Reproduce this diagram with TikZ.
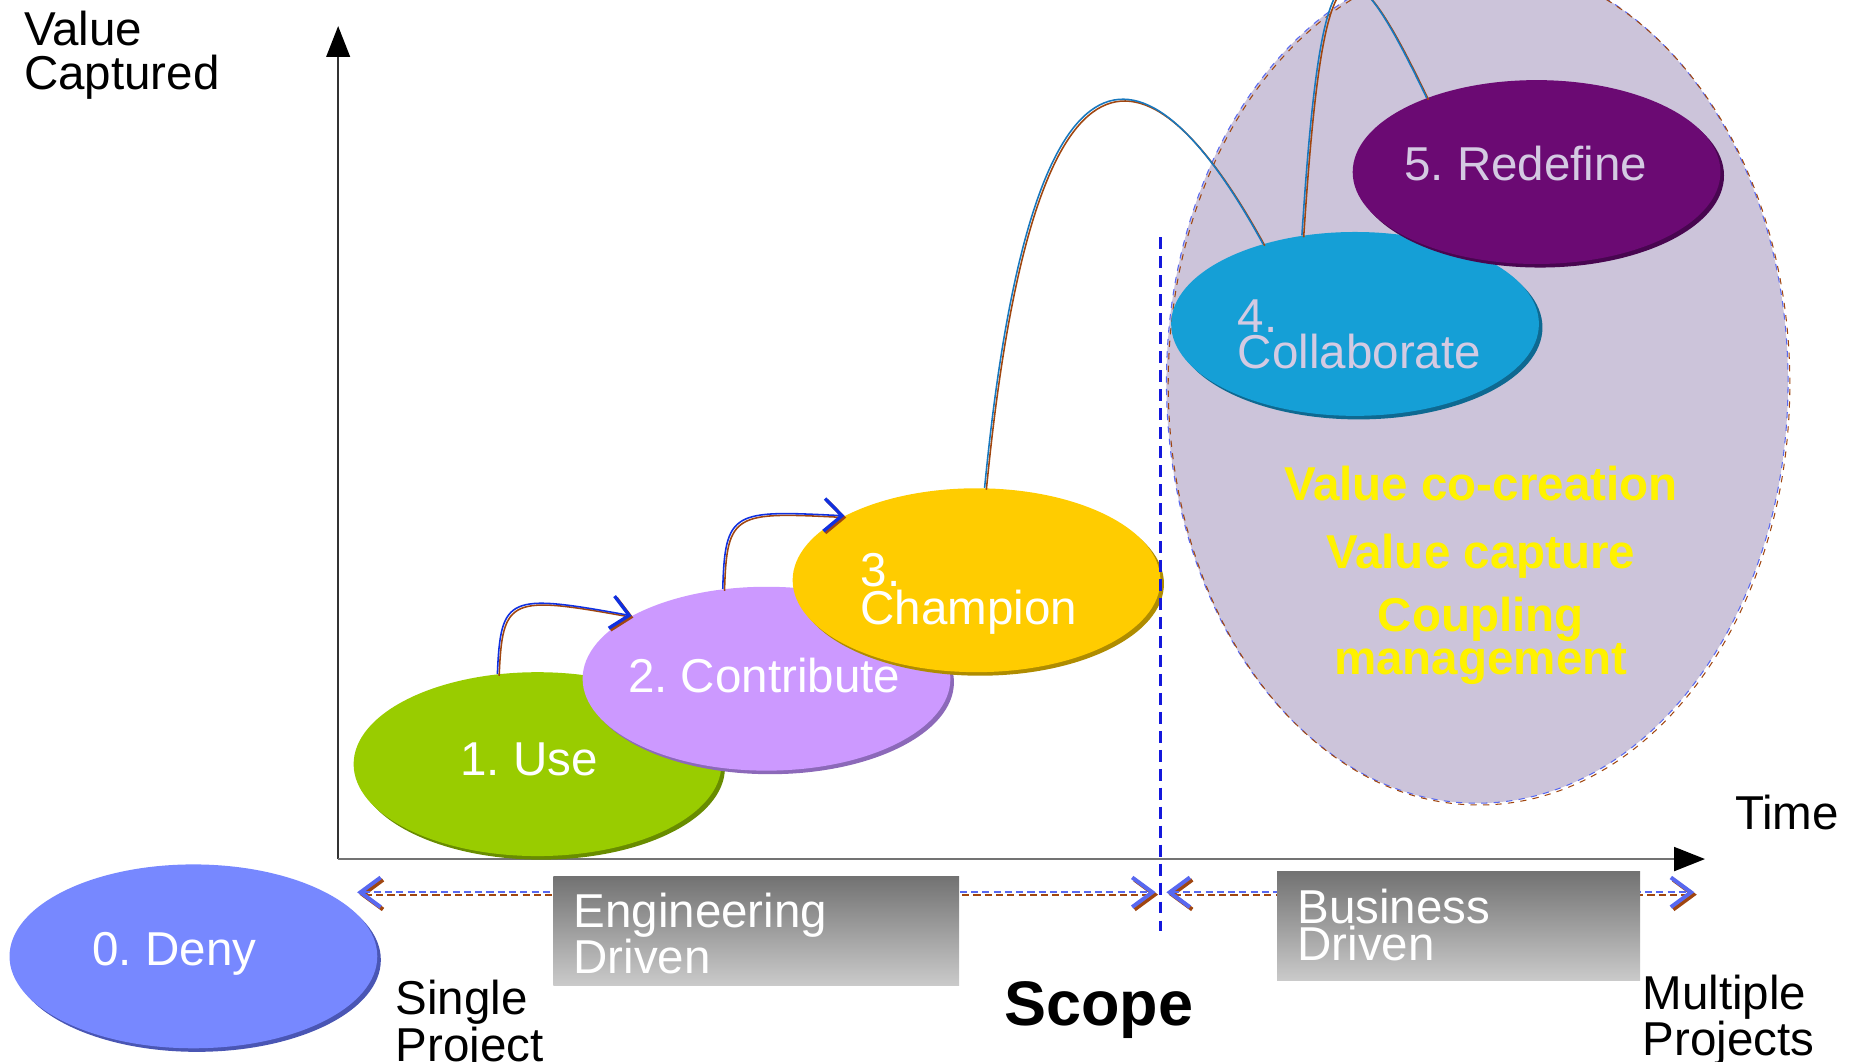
\documentclass[tikz,border=0pt]{standalone}
\usepackage{fontspec}
\setmainfont{Liberation Sans}
\usetikzlibrary{arrows.meta,shapes.geometric,shadows,positioning}
\frenchspacing

\definecolor{denyblue}{RGB}{119,136,255}
\definecolor{denyrim}{RGB}{74,86,180}
\definecolor{usegreen}{RGB}{153,204,0}
\definecolor{userim}{RGB}{104,140,0}
\definecolor{contriblilac}{RGB}{204,153,255}
\definecolor{contribrim}{RGB}{140,105,185}
\definecolor{champyellow}{RGB}{255,204,0}
\definecolor{champrim}{RGB}{175,140,0}
\definecolor{collabcyan}{RGB}{21,159,214}
\definecolor{collabrim}{RGB}{14,105,145}
\definecolor{redefpurple}{RGB}{107,10,115}
\definecolor{redefrim}{RGB}{72,6,80}
\definecolor{zonefill}{RGB}{204,196,218}
\definecolor{paletext}{RGB}{212,202,226}
\definecolor{lineblue}{RGB}{16,48,224}
\definecolor{linesteel}{RGB}{24,120,190}
\definecolor{linebrown}{RGB}{160,70,16}
\definecolor{scopeblue}{RGB}{88,104,240}
\definecolor{dividerblue}{RGB}{20,24,220}
\definecolor{boxtop}{RGB}{114,114,114}
\definecolor{boxbottom}{RGB}{202,202,202}

\tikzset{
  stage/.style 2 args={ellipse, inner sep=0pt, minimum width=6.2cm,
    minimum height=3.1cm, fill=#1,
    drop shadow={fill=#2, opacity=1, shadow xshift=0.06cm, shadow yshift=-0.06cm}},
  stageText/.style={inner sep=0pt, align=left, text=white,
    font=\fontsize{22.8}{17}\selectfont},
  axisText/.style={inner sep=0pt, align=left, font=\fontsize{22.8}{20}\selectfont},
  goalText/.style={inner sep=0pt, align=center, text=yellow,
    font=\bfseries\fontsize{22.8}{17}\selectfont},
  zoneEdge/.style={ellipse, inner sep=0pt, minimum width=10.48cm,
    minimum height=14.2cm, dashed, line width=0.5pt},
  driveBox/.style={anchor=north west, inner sep=0pt, minimum height=1.84cm,
    top color=boxtop, bottom color=boxbottom},
  climb/.style={line width=0.75pt},
  climbTip/.style={-{Straight Barb[length=0.3cm, width=0.55cm, line width=1.6pt]}},
  scopeLine/.style={line width=1.1pt, dash pattern=on 0.12cm off 0.07cm,
    {Straight Barb[length=0.34cm, width=0.5cm, line width=1.9pt]}-{Straight Barb[length=0.34cm, width=0.5cm, line width=1.9pt]}},
  axisTip/.style={-{Triangle[length=0.52cm, width=0.4cm, color=black]}}
}

\begin{document}
\begin{tikzpicture}[x=0.02cm, y=0.02cm]
  \useasboundingbox (0,0) rectangle (1560,-895);
  \clip (0,0) rectangle (1560,-895);

  \node[zoneEdge, fill=zonefill, draw=scopeblue] (zone) at (1245,-322) {};
  \node[zoneEdge, draw=linebrown] (zoneShade) at ([shift={(1.5,-1.5)}]zone.center) {};

  \coordinate (origin) at (285,-724);
  \coordinate (ytip) at (285,-22);
  \coordinate (xtip) at (1437,-724);
  \draw[line width=0.8pt, black!80, axisTip] (origin) -- (ytip);
  \draw[line width=1.2pt, black!55, axisTip] (origin) -- (xtip);

  \node[stage={denyblue}{denyrim}] (deny) at (163,-806) {};
  \node[stage={usegreen}{userim}] (use) at (453,-644) {};
  \node[stage={contriblilac}{contribrim}] (contrib) at (646,-572) {};
  \node[stage={champyellow}{champrim}] (champ) at (823,-489) {};
  \node[stage={collabcyan}{collabrim}] (collab) at (1142,-273) {};
  \node[stage={redefpurple}{redefrim}] (redef) at (1295,-145) {};

  \foreach \hue/\dd in {linebrown/0.03, lineblue/0}{
    \draw[climb, climbTip, \hue, transform canvas={shift={(\dd cm,-\dd cm)}}]
      (use.114) .. controls (422,-502) and (428,-500) .. (contrib.155);
    \draw[climb, climbTip, \hue, transform canvas={shift={(\dd cm,-\dd cm)}}]
      (contrib.116) .. controls (611,-430) and (618,-430) .. (champ.154);
  }
  \foreach \hue/\dd in {linebrown/0.03, linesteel/0}{
    \draw[climb, \hue, transform canvas={shift={(\dd cm,-\dd cm)}}]
      (champ.85) .. controls (868,-18) and (962,-18) .. (collab.139);
    \draw[climb, \hue, transform canvas={shift={(\dd cm,-\dd cm)}}]
      (collab.121) .. controls (1114,60) and (1134,60) .. (redef.146);
  }

  \coordinate (divTop) at (978,-200);
  \coordinate (divBot) at (978,-785);
  \draw[dividerblue, line width=1.2pt, dash pattern=on 0.2cm off 0.12cm] (divTop) -- (divBot);

  \node[stageText, anchor=base] (denyText) at (147,-814) {0. Deny};
  \node[stageText, anchor=base] (useText) at (446,-654) {1. Use};
  \node[stageText, anchor=base] (contribText) at (644,-584) {2. Contribute};
  \node[stageText, anchor=north west, font=\fontsize{22.8}{18.2}\selectfont]
    (champText) at (725,-466) {3.\\Champion};
  \node[stageText, anchor=north west, text=paletext, font=\fontsize{22.8}{17.5}\selectfont]
    (collabText) at (1043,-252) {4.\\Collaborate};
  \node[stageText, anchor=base, text=paletext] (redefText) at (1286,-152) {5. Redefine};

  \node[goalText, anchor=base] (cocreate) at (1248,-422) {Value co-creation};
  \node[goalText, anchor=base] (capture) at (1248,-479) {Value capture};
  \node[goalText, anchor=north] (coupling) at (1248,-503) {Coupling\\management};

  \node[axisText, anchor=north west, font=\fontsize{22.8}{21}\selectfont]
    (yLabel) at (20,-9) {Value\\Captured};
  \node[axisText, anchor=base west] (xLabel) at (1462,-699) {Time};
  \node[axisText, anchor=north west] (single) at (333,-826) {Single\\Project};
  \node[axisText, anchor=north west] (multiple) at (1384,-821) {Multiple\\Projects};
  \node[inner sep=0pt, anchor=base, font=\bfseries\fontsize{30.2}{34}\selectfont]
    (scope) at (926,-864) {Scope};

  \coordinate (engL) at (301,-752);
  \coordinate (engR) at (974,-752);
  \coordinate (bizL) at (983,-752);
  \coordinate (bizR) at (1428,-752);
  \foreach \hue/\dd in {linebrown/0.04, scopeblue/0}{
    \draw[scopeLine, \hue, transform canvas={shift={(\dd cm,-\dd cm)}}] (engL) -- (engR);
    \draw[scopeLine, \hue, transform canvas={shift={(\dd cm,-\dd cm)}}] (bizL) -- (bizR);
  }

  \node[driveBox, minimum width=6.84cm] (engBox) at (466,-738) {};
  \node[stageText, anchor=north west, font=\fontsize{22.8}{16.5}\selectfont]
    (engText) at (483,-752) {Engineering\\Driven};
  \node[driveBox, minimum width=6.12cm] (bizBox) at (1076,-734) {};
  \node[stageText, anchor=north west, font=\fontsize{22.8}{16}\selectfont]
    (bizText) at (1093,-749) {Business\\Driven};
\end{tikzpicture}
\end{document}
